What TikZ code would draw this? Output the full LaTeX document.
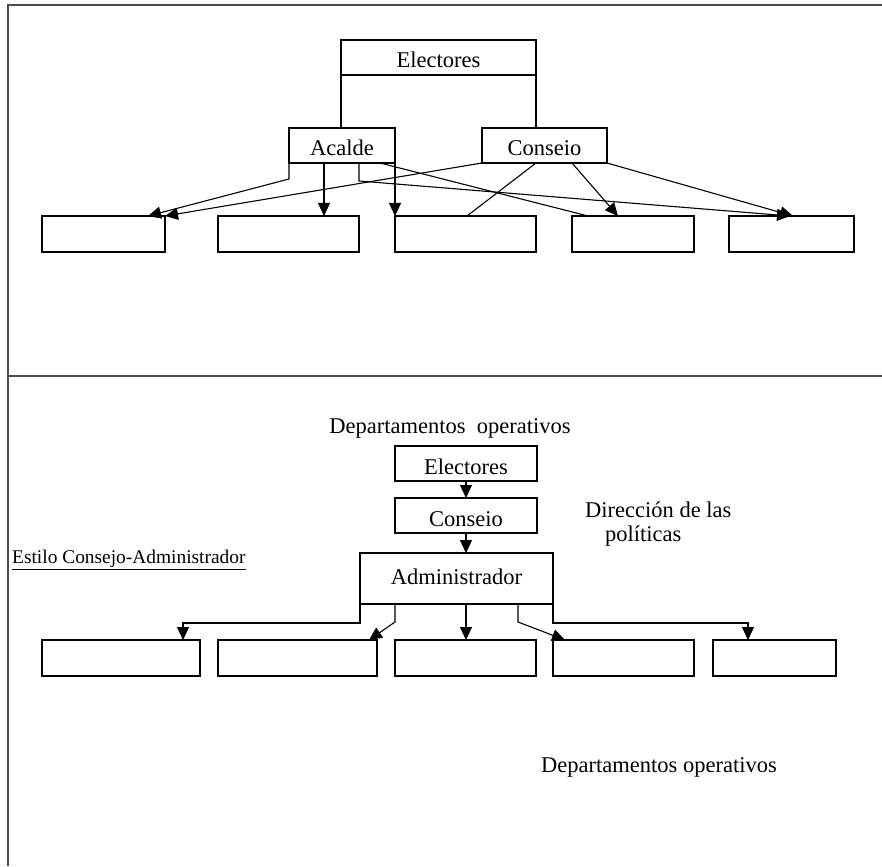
\documentclass[tikz,border=0pt]{standalone}
\usepackage{fontspec}
\setmainfont{Liberation Serif}
\usetikzlibrary{arrows.meta,calc}
\begin{document}
\begin{tikzpicture}[x=1pt,y=-1pt,
  frame/.style={line width=1.4pt, draw=black!70},
  bx/.style={draw, line width=1.1pt, inner sep=0pt, outer sep=0pt,
    font=\fontsize{22.5}{26}\selectfont, text height=21pt, text depth=0pt},
  lbl/.style={font=\fontsize{22.5}{26}\selectfont, inner sep=0pt},
  conn/.style={line width=1.1pt},
  arr/.style={conn, -{Triangle[length=13pt,width=12pt]}},
]
\useasboundingbox (0,0) rectangle (882,866);
% frame
\draw[frame] (882,5) -- (8,5) -- (8,866);
\draw[frame] (8,376) -- (882,376);

% ---------- top section ----------
\node[bx, minimum width=195pt, minimum height=35pt] (E1) at (438.5,57.5) {Electores};
\node[bx, minimum width=106pt, minimum height=35pt] (A) at (342,145.5) {Acalde};
\node[bx, minimum width=125pt, minimum height=35pt] (C1) at (544.5,145.5) {Conseio};
\node[bx, minimum width=123pt, minimum height=36pt] (t1) at (103.5,234) {};
\node[bx, minimum width=141pt, minimum height=36pt] (t2) at (288.5,234) {};
\node[bx, minimum width=141pt, minimum height=36pt] (t3) at (465.5,234) {};
\node[bx, minimum width=122pt, minimum height=36pt] (t4) at (633,234) {};
\node[bx, minimum width=125pt, minimum height=36pt] (t5) at (791.5,234) {};

\draw[conn] (E1.south west) -- (E1.south west |- A.north);
\draw[conn] (E1.south east) -- (E1.south east |- C1.north);

\draw[arr] (A.south west) -- ++(0,16) -- ($(t1.north west)+(106,0)$);
\draw[arr] ($(A.south west)+(35,0)$) coordinate (a2) -- (a2 |- t2.north);
\draw[arr] (A.south east) -- (A.south east |- t3.north);
\draw[arr] ($(A.south west)+(70,0)$) -- ++(0,18) -- ($(t5.north west)+(61,0)$);
\draw[conn] ($(A.south west)+(91,0)$) -- ($(t4.north west)+(16,0)$);

\draw[arr] (C1.south west) -- (t1.north east);
\draw[conn] ($(C1.south west)+(54,0)$) -- ($(t3.north west)+(72,0)$);
\draw[arr] ($(C1.south west)+(90,0)$) -- ($(t4.north west)+(46,0)$);
\draw[arr] (C1.south east) -- ($(t5.north west)+(64,0)$);

% ---------- bottom section ----------
\node[lbl] (dep1) at (450,428) {Departamentos~~operativos};
\node[bx, minimum width=142pt, minimum height=35pt] (E2) at (466,463.5) {Electores};
\node[bx, minimum width=142pt, minimum height=35pt] (C2) at (466,515.5) {Conseio};
\node[bx, minimum width=193pt, minimum height=51pt, text height=16pt, text depth=4pt] (Ad) at (456.5,578.5) {Administrador};
\node[lbl, anchor=west] (dir1) at (585,510) {Dirección de las};
\node[lbl, anchor=west] (dir2) at (605,536) {políticas};
\node[inner sep=0pt, anchor=west, font=\fontsize{19.4}{23}\selectfont] (est) at (12,560) {\underline{Estilo Consejo-Administrador}};

\node[bx, minimum width=158pt, minimum height=36pt] (b1) at (121,658) {};
\node[bx, minimum width=159pt, minimum height=36pt] (b2) at (297.5,658) {};
\node[bx, minimum width=141pt, minimum height=36pt] (b3) at (465.5,658) {};
\node[bx, minimum width=141pt, minimum height=36pt] (b4) at (623.5,658) {};
\node[bx, minimum width=123pt, minimum height=36pt] (b5) at (774.5,658) {};

\draw[arr] (E2.south) -- (C2.north);
\draw[arr] (C2.south) -- (C2.south |- Ad.north);

\draw[arr] (Ad.south west) -- ++(0,19) -| ($(b1.north west)+(141,0)$);
\draw[arr] ($(Ad.south west)+(35,0)$) -- ++(0,18) -- ($(b2.north west)+(151,0)$);
\draw[arr] ($(Ad.south west)+(106,0)$) coordinate (d3) -- (d3 |- b3.north);
\draw[arr] ($(Ad.south west)+(158,0)$) -- ++(0,18) -- ($(b4.north west)+(12,0)$);
\draw[arr] (Ad.south east) -- ++(0,19) -| ($(b5.north west)+(35,0)$);

\node[lbl] (dep2) at (659,767) {Departamentos operativos};
\end{tikzpicture}
\end{document}
